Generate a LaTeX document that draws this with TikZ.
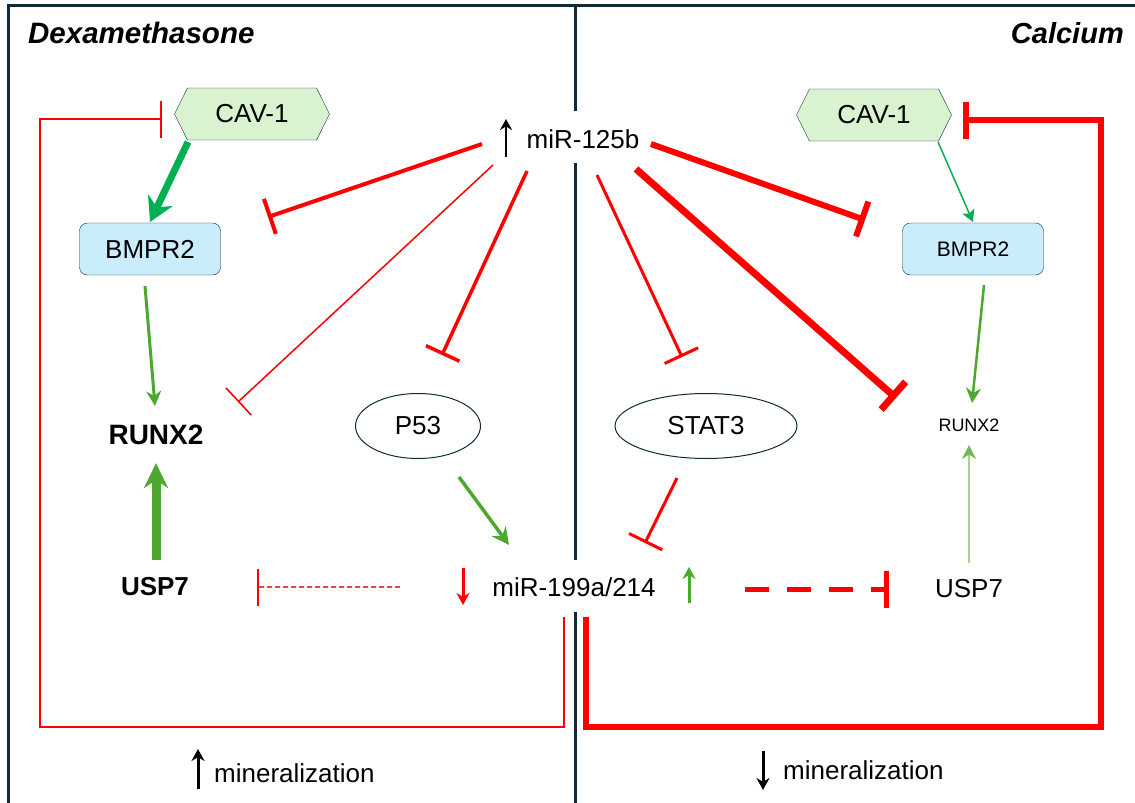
\documentclass[tikz,border=0pt]{standalone}
\usepackage{fontspec}
\setmainfont{Liberation Sans}
\usetikzlibrary{arrows.meta, shapes.geometric, shapes.symbols}
\definecolor{navy}{HTML}{0E2A3B}
\definecolor{cavfill}{HTML}{D9F2D0}
\definecolor{boxfill}{HTML}{CAEDFB}
\definecolor{darkgreen}{HTML}{00B050}
\definecolor{leafgreen}{HTML}{4EA72E}
\definecolor{palegreen}{HTML}{A9D18E}
\definecolor{softred}{HTML}{FF3B3B}
\tikzset{>=Stealth}
\tikzset{
  gene/.style={font=\fontsize{26}{31}\selectfont, inner sep=0pt},
  hexnode/.style={gene, shape=signal, signal to=west and east, signal pointer angle=127,
    draw=navy, fill=cavfill, minimum width=155pt, minimum height=52pt},
  boxnode/.style={gene, rectangle, rounded corners=8pt, draw=navy, fill=boxfill,
    minimum width=141pt, minimum height=52pt},
  ovalnode/.style={gene, ellipse, draw=navy, line width=1pt},
  inhibit/.style={color=red, -{Bar[width=37pt]}},
  thininhibit/.style={color=red, -{Bar[width=37pt, line width=1.6pt, color=red]}},
  activate/.style={color=leafgreen, -{Stealth[length=15pt, width=15pt]}},
}

\begin{document}
\begin{tikzpicture}[x=1pt, y=-1pt]
    \useasboundingbox (0,0) rectangle (1135,803);
    \draw[navy, line width=3pt] (8,815) -- (8,5) -- (1145,5);
    \draw[navy, line width=3pt] (575,5) -- (575,111) (575,163) -- (575,560) (575,612) -- (575,815);
    \node[gene, font=\fontsize{29.5}{34}\selectfont\bfseries\itshape, anchor=west] (dexa) at (28,33) {Dexamethasone};
    \node[gene, font=\fontsize{29}{34}\selectfont\bfseries\itshape, anchor=east] (calc) at (1124,33) {Calcium};
    \node[hexnode] (cavL) at (252,114) {CAV-1};
    \node[hexnode] (cavR) at (874,115) {CAV-1};
    \node[boxnode] (bmprL) at (150,249) {BMPR2};
    \node[boxnode, font=\fontsize{21}{25}\selectfont] (bmprR) at (973,249) {BMPR2};
    \node[gene] (mirA) at (583,139) {miR-125b};
    \node[gene, font=\fontsize{28}{33}\selectfont\bfseries] (runxL) at (156,435) {RUNX2};
    \node[gene, font=\fontsize{18}{22}\selectfont] (runxR) at (969,425) {RUNX2};
    \node[ovalnode, minimum width=125pt, minimum height=65pt] (p53) at (418,426) {P53};
    \node[ovalnode, minimum width=182pt, minimum height=65pt] (stat) at (706,426) {STAT3};
    \node[gene, font=\fontsize{26}{31}\selectfont\bfseries] (uspL) at (155,587) {USP7};
    \node[gene] (uspR) at (969,589) {USP7};
    \node[gene] (mirB) at (574,587) {miR-199a/214};
    \node[gene, anchor=west] (minL) at (214,773) {mineralization};
    \node[gene, anchor=west] (minR) at (783,770) {mineralization};
    \coordinate (cavLout) at (188,142);
    \coordinate (bmprLin) at (150,222);
    \coordinate (cavRout) at (938,142);
    \coordinate (bmprRin) at (973,222);
    \coordinate (bmprLout) at (145,286);
    \coordinate (runxLtop) at (155,406);
    \coordinate (uspLout) at (156,560);
    \coordinate (runxLbot) at (156,463);
    \coordinate (bmprRout) at (984,285);
    \coordinate (runxRtop) at (972,403);
    \coordinate (uspRout) at (969,563);
    \coordinate (runxRbot) at (969,445);
    \coordinate (p53out) at (459,477);
    \coordinate (mirBin) at (509,545);
    \coordinate (statout) at (677,478);
    \coordinate (mirBtop) at (645,543);
    \coordinate (mirBleft) at (400,587);
    \coordinate (uspLin) at (257,587);
    \coordinate (mirBright) at (745,589);
    \coordinate (uspRin) at (889,589);
    % miR-125b targets
    \draw[inhibit, line width=4pt] (482,144) -- (268,217);
    \draw[thininhibit, line width=1.5pt] (493,165) -- (238,402);
    \draw[inhibit, line width=3.5pt] (527,171) -- (442,355);
    \draw[inhibit, line width=3pt] (597,175) -- (682,357);
    \draw[inhibit, line width=7pt] (636,169) -- (896,398);
    \draw[inhibit, line width=6pt] (651,144) -- (865,220);
    % activations
    \draw[darkgreen, line width=7pt, -{Stealth[length=24pt, width=27pt]}] (cavLout) -- (bmprLin);
    \draw[darkgreen, line width=1.5pt, -{Stealth[length=12pt, width=13pt, inset=3pt]}] (cavRout) -- (bmprRin);
    \draw[activate, line width=3pt] (bmprLout) -- (runxLtop);
    \draw[activate, line width=9pt, -{Stealth[length=25pt, width=24pt]}] (uspLout) -- (runxLbot);
    \draw[activate, line width=2.5pt] (bmprRout) -- (runxRtop);
    \draw[palegreen, line width=1.5pt, -{Stealth[length=14pt, width=14pt, color=leafgreen!80]}] (uspRout) -- (runxRbot);
    \draw[activate, line width=3.5pt, -{Stealth[length=17pt, width=17pt]}] (p53out) -- (mirBin);
    % miR-199a/214
    \draw[inhibit, line width=3pt] (statout) -- (mirBtop);
    \draw[thininhibit, color=softred, line width=1.3pt, dash pattern=on 5pt off 3pt] (mirBleft) -- (uspLin);
    \draw[inhibit, line width=5pt, dash pattern=on 24pt off 18pt] (mirBright) -- (uspRin);
    \draw[thininhibit, line width=1.3pt] (564,617) -- (564,727) -- (40,727) -- (40,119) -- (162,119);
    \draw[inhibit, line width=6pt] (586,617) -- (586,727) -- (1101,727) -- (1101,120) -- (963,120);
    % up / down marks
    \draw[line width=2.5pt, -{Stealth[length=11pt, width=12pt]}] (506,157) -- (506,119);
    \draw[red, line width=3pt, -{Stealth[length=12pt, width=13pt]}] (463,568) -- (463,605);
    \draw[leafgreen, line width=3pt, -{Stealth[length=12pt, width=13pt]}] (689,603) -- (689,567);
    \draw[line width=3pt, -{Stealth[length=12pt, width=13pt]}] (198,789) -- (198,749);
    \draw[line width=3pt, -{Stealth[length=12pt, width=13pt]}] (763,751) -- (763,790);
\end{tikzpicture}
\end{document}
